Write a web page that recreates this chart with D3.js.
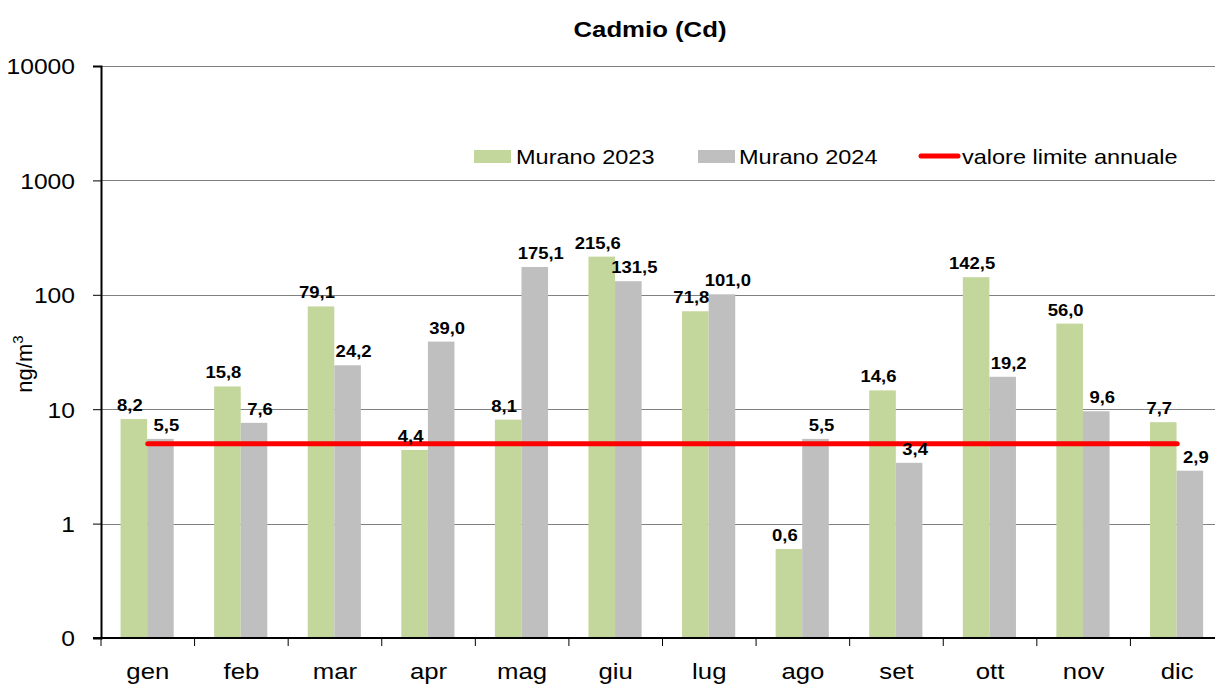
<!DOCTYPE html>
<html><head><meta charset="utf-8">
<script src="https://cdn.jsdelivr.net/npm/d3@7/dist/d3.min.js"></script>
<style>body{margin:0;background:#fff}svg{display:block;font-family:"Liberation Sans",Arial,sans-serif}</style>
</head><body><svg id="c" width="1215" height="686"></svg>
<script>
const months = ["gen","feb","mar","apr","mag","giu","lug","ago","set","ott","nov","dic"];
const murano2023 = [8.2,15.8,79.1,4.4,8.1,215.6,71.8,0.6,14.6,142.5,56.0,7.7];
const murano2024 = [5.5,7.6,24.2,39.0,175.1,131.5,101.0,5.5,3.4,19.2,9.6,2.9];
const limitValue = 5;
const yTickValues = [0.1,1,10,100,1000,10000];
const yTickLabels = ["0","1","10","100","1000","10000"];
const seriesNames = ["Murano 2023","Murano 2024","valore limite annuale"];

const FONT = "Liberation Sans, Arial, sans-serif";
const SX = 1.12;
function sx(sel, origin) {
  sel.style("transform-box", "fill-box").style("transform-origin", origin).style("transform", `scaleX(${SX})`);
  return sel;
}

const svg = d3.select("#c");
const x0 = 101, x1 = 1224, yTop = 66, yBot = 638;
const x = d3.scaleBand().domain(months).range([x0, x1]).paddingInner(0).paddingOuter(0);
const bw = x.bandwidth();
const y = d3.scaleLog().domain([0.1, 10000]).range([yBot, yTop]);
const barW = bw * 0.284, groupOff = bw * 0.209;
const fmt = v => v.toFixed(1).replace(".", ",");

// gridlines
svg.append("g").selectAll("line").data(yTickValues.slice(1)).join("line")
  .attr("x1", x0).attr("x2", x1).attr("y1", d => Math.round(y(d)) + 0.5).attr("y2", d => Math.round(y(d)) + 0.5)
  .attr("stroke", "#808080").attr("stroke-width", 1);

// y axis
const yAxis = d3.axisLeft(y).tickValues(yTickValues).tickFormat((d, i) => yTickLabels[i]).tickSize(8).tickPadding(18);
const ga = svg.append("g").attr("transform", `translate(${x0},0)`).call(yAxis);
ga.select(".domain").attr("stroke", "#000").attr("stroke-width", 2);
ga.selectAll(".tick line").attr("stroke", "#000").attr("stroke-width", 1);
ga.selectAll(".tick text").attr("font-size", 22).attr("fill", "#000").attr("font-family", FONT).attr("dy", "0.36em");
sx(ga.selectAll(".tick text"), "100% 50%");

// bars
const series = [
  {vals: murano2023, color: "#c3d69b", off: 0, dx: -4},
  {vals: murano2024, color: "#bfbfbf", off: 1, dx: 6}
];
series.forEach(s => {
  svg.append("g").selectAll("rect").data(months).join("rect")
    .attr("x", d => x(d) + groupOff + s.off * barW)
    .attr("width", barW)
    .attr("y", (d, i) => y(s.vals[i]))
    .attr("height", (d, i) => yBot - y(s.vals[i]))
    .attr("fill", s.color);
});

// limit line
svg.append("line")
  .attr("x1", x(months[0]) + bw / 2).attr("x2", x(months[months.length - 1]) + bw / 2)
  .attr("y1", y(limitValue)).attr("y2", y(limitValue))
  .attr("stroke", "#ff0000").attr("stroke-width", 5).attr("stroke-linecap", "round");

// value labels
series.forEach(s => {
  const t = svg.append("g").selectAll("text").data(months).join("text")
    .attr("x", d => x(d) + groupOff + s.off * barW + barW / 2 + s.dx)
    .attr("y", (d, i) => y(s.vals[i]) - 8)
    .attr("text-anchor", "middle").attr("font-size", 16.5).attr("font-weight", "bold").attr("fill", "#000")
    .text((d, i) => fmt(s.vals[i]));
  sx(t, "50% 50%");
});

// x axis
const xAxis = d3.axisBottom(x).tickSize(0).tickPadding(25);
const gx = svg.append("g").attr("transform", `translate(0,${yBot})`).call(xAxis);
gx.select(".domain").remove();
gx.selectAll(".tick text").attr("font-size", 23).attr("fill", "#000").attr("font-family", FONT).attr("dy", "0.71em");
sx(gx.selectAll(".tick text"), "50% 50%");
svg.append("line").attr("x1", x0 - 8).attr("x2", x1).attr("y1", yBot).attr("y2", yBot).attr("stroke", "#000").attr("stroke-width", 2);
svg.append("g").selectAll("line").data(months.concat(["_end"])).join("line")
  .attr("x1", (d, i) => x0 + i * bw).attr("x2", (d, i) => x0 + i * bw)
  .attr("y1", yBot).attr("y2", yBot + 8).attr("stroke", "#000").attr("stroke-width", 1);

// title
sx(svg.append("text").attr("x", 650).attr("y", 37).attr("text-anchor", "middle")
  .attr("font-size", 23).attr("font-weight", "bold").text("Cadmio (Cd)"), "50% 50%");

// y label
const yl = svg.append("text").attr("transform", "translate(32,364) rotate(-90)").attr("text-anchor", "middle").attr("font-size", 22);
yl.append("tspan").text("ng/m");
yl.append("tspan").attr("dy", -9).attr("font-size", 15).text("3");

// legend
const lg = svg.append("g");
lg.append("rect").attr("x", 474).attr("y", 150).attr("width", 37).attr("height", 13).attr("fill", "#c3d69b");
sx(lg.append("text").attr("x", 516).attr("y", 164).attr("font-size", 21).text(seriesNames[0]), "0% 50%");
lg.append("rect").attr("x", 698).attr("y", 150).attr("width", 37).attr("height", 13).attr("fill", "#bfbfbf");
sx(lg.append("text").attr("x", 739).attr("y", 164).attr("font-size", 21).text(seriesNames[1]), "0% 50%");
lg.append("line").attr("x1", 921).attr("x2", 958).attr("y1", 156).attr("y2", 156).attr("stroke", "#ff0000").attr("stroke-width", 5).attr("stroke-linecap", "round");
sx(lg.append("text").attr("x", 962).attr("y", 164).attr("font-size", 21).text(seriesNames[2]), "0% 50%");
</script></body></html>
